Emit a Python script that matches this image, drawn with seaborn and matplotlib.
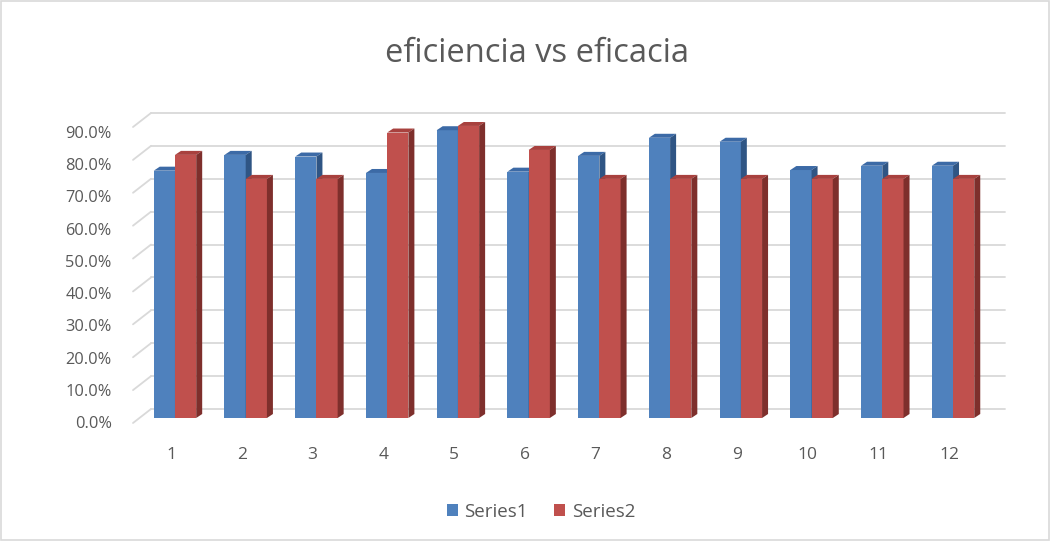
import numpy as np
import pandas as pd
import matplotlib
matplotlib.use("Agg")
import matplotlib.pyplot as plt
import matplotlib.transforms as mtransforms
from matplotlib.patches import Polygon, Rectangle, Patch
import seaborn as sns

# ---- data ----
categories = [str(i) for i in range(1, 13)]
series1 = [0.752, 0.800, 0.795, 0.745, 0.875, 0.749, 0.797, 0.852, 0.840, 0.754, 0.767, 0.767]
series2 = [0.800, 0.727, 0.727, 0.868, 0.888, 0.815, 0.727, 0.727, 0.727, 0.727, 0.727, 0.727]
series_names = ["Series1", "Series2"]
yticks = [i / 10 for i in range(10)]
title = "eficiencia vs eficacia"

df = pd.DataFrame({
    "mes": categories * 2,
    "valor": series1 + series2,
    "serie": [series_names[0]] * 12 + [series_names[1]] * 12,
})

front = {"Series1": "#4f81bd", "Series2": "#c0504d"}
top = {"Series1": "#3c6aa6", "Series2": "#a8413e"}
side = {"Series1": "#2f5584", "Series2": "#7e2f2c"}
grid_c = "#d9d9d9"
text_c = "#595959"

sns.set_theme(style="white")
plt.rcParams["font.family"] = ["Open Sans", "DejaVu Sans"]

W, H = 1059, 547
fig = plt.figure(figsize=(W / 100, H / 100), dpi=100)
ax_l, ax_r, ax_b, ax_t = 139.6, 988.4, 418, 122
ax = fig.add_axes([ax_l / W, (H - ax_b) / H, (ax_r - ax_l) / W, (ax_b - ax_t) / H])

sns.barplot(data=df, x="mes", y="valor", hue="serie", order=categories,
            hue_order=series_names, palette=[front[s] for s in series_names],
            width=0.6, saturation=1, ax=ax, legend=False, errorbar=None)
ax.set_ylim(0, 0.9)
ax.set_xlim(-0.5, 11.5)
for s in ax.spines.values():
    s.set_visible(False)
ax.set_xlabel("")
ax.set_ylabel("")
ax.set_yticks(yticks)
ax.set_yticklabels([f"{v*100:.1f}%" for v in yticks])
ax.tick_params(axis="y", length=0, pad=20, labelsize=11.8, labelcolor=text_c)
ax.tick_params(axis="x", length=0, pad=21, labelsize=12.5, labelcolor=text_c)
for v, t in zip(yticks, ax.get_yticklabels()):
    shift = 4 + v * 6 / 0.9
    t.set_transform(t.get_transform() + mtransforms.ScaledTranslation(0, -shift / 100, fig.dpi_scale_trans))
for t in ax.get_xticklabels():
    t.set_transform(t.get_transform() + mtransforms.ScaledTranslation(-4 / 100, 0, fig.dpi_scale_trans))
ax.grid(False)

# back-wall gridlines with floor stubs
px = 1 / 100.0
back = mtransforms.blended_transform_factory(ax.transAxes, ax.transData)
up = back + mtransforms.ScaledTranslation(0, 9 * px, fig.dpi_scale_trans)
x0 = (151 - ax_l) / (ax_r - ax_l)
x1 = (1005 - ax_l) / (ax_r - ax_l)
xs = (133 - ax_l) / (ax_r - ax_l)
for v in yticks:
    ax.plot([x0, x1], [v, v], transform=up, color=grid_c, lw=1.3, zorder=0, clip_on=False)
    p0 = back.transform((xs, v)) + np.array([0, -5])
    p1 = up.transform((x0, v))
    ax.plot([p0[0], p1[0]], [p0[1], p1[1]], transform=None, color=grid_c, lw=1.3,
            zorder=0, clip_on=False)

# fake 3D faces from seaborn's bar patches
dx_px, dy_px = 6, 4
inv = ax.transData.inverted()
o = inv.transform((0, 0))
d = inv.transform((dx_px, dy_px)) - o
ddx, ddy = d
bars = [p for p in ax.patches if isinstance(p, Rectangle)]
n = len(categories)
for i, p in enumerate(bars):
    name = series_names[i // n]
    base_z = 2 if name == "Series1" else 4
    p.set_zorder(base_z)
    p.set_edgecolor("none")
    x, w, h = p.get_x(), p.get_width(), p.get_height()
    topf = Polygon([(x, h), (x + w, h), (x + w + ddx, h + ddy), (x + ddx, h + ddy)],
                   closed=True, facecolor=top[name], edgecolor="none", zorder=base_z + 0.5)
    sidef = Polygon([(x + w, 0), (x + w + ddx, ddy), (x + w + ddx, h + ddy), (x + w, h)],
                    closed=True, facecolor=side[name], edgecolor="none", zorder=base_z + 0.5)
    ax.add_patch(topf)
    ax.add_patch(sidef)

fig.text(537 / W, 1 - 53 / H, title, ha="center", va="center", fontsize=23.5, color=text_c)

handles = [Patch(facecolor=front[s], edgecolor="none", label=s) for s in series_names]
leg = fig.legend(handles=handles, loc="center", bbox_to_anchor=(541 / W, 1 - 512 / H), ncol=2,
                 frameon=False, fontsize=13.5, handlelength=0.6, handleheight=0.6,
                 handletextpad=0.35, columnspacing=1.4)
for t in leg.get_texts():
    t.set_color(text_c)

fig.patches.append(Rectangle((0.001, 0.012), 0.99, 0.986, transform=fig.transFigure,
                             fill=False, edgecolor=grid_c, lw=1.2))

fig.savefig("out.png", dpi=100)
